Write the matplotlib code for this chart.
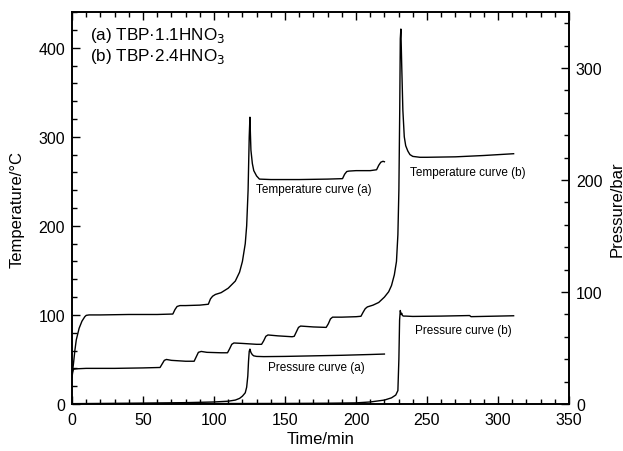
import matplotlib
matplotlib.use("Agg")
import matplotlib.pyplot as plt
from matplotlib.ticker import MultipleLocator

plt.rcParams['font.family'] = ['Liberation Sans', 'DejaVu Sans']

# Temperature curve (a): TBP·1.1HNO3 (left axis, °C)
temp_a_t = [0, 1, 2, 3, 5, 7, 9, 10, 12, 20, 40, 60, 71, 72.5, 74, 76, 80, 90, 96,
            97.5, 99, 101, 105, 110, 115, 118, 120, 122, 123, 124, 124.8, 125.3,
            125.6, 126, 127, 128, 130, 132, 140, 160, 180, 190.5, 192, 193.5, 195,
            200, 210, 214.5, 216, 217.5, 219, 220]
temp_a_v = [32, 45, 60, 72, 85, 93, 98, 99.5, 100, 100, 100.5, 100.5, 101, 106, 109.5,
            110.5, 110.5, 111, 112, 118, 121, 123, 125, 130, 138, 148, 160, 180, 200,
            240, 300, 322, 305, 285, 270, 262, 256, 252.5, 252, 252, 252.5, 253, 258,
            261, 261.5, 262, 262, 263, 268, 271.5, 272.5, 272]

# Temperature curve (b): TBP·2.4HNO3 (left axis, °C)
temp_b_t = [0, 0.5, 1, 3, 10, 30, 50, 62, 63.5, 65, 66.5, 70, 80, 86, 87.5, 89, 91, 95,
            105, 109.5, 111, 112.5, 114, 120, 130, 133.5, 135, 136.5, 138, 145, 155,
            156.5, 158, 159.5, 161, 170, 179, 180.5, 182, 183.5, 190, 200, 203.5, 205,
            206.5, 208, 212, 216, 220, 223, 225, 227, 228.5, 229.5, 230.2, 230.8,
            231.2, 231.6, 232.2, 233, 234, 235, 236.5, 238, 240, 245, 250, 270, 290, 311]
temp_b_v = [30, 36, 39, 39.5, 40, 40, 40.5, 41, 45, 49, 50, 49, 48, 48, 53, 58, 59, 58,
            57.5, 57.5, 62, 67, 68.5, 68, 67, 67, 71, 76, 77.5, 76.5, 75.5, 76, 81, 86,
            87.5, 86.5, 86, 90, 95.5, 97.5, 97.5, 98, 98.5, 103, 107, 109, 111, 114, 120,
            126, 133, 145, 160, 190, 240, 330, 410, 421, 380, 330, 300, 290, 284, 280,
            278, 277, 277, 277.5, 279, 281]

# Pressure curve (a) (right axis, bar)
pres_a_t = [0, 20, 50, 80, 100, 110, 115, 118, 120, 122, 123, 123.8, 124.3, 124.8,
            125.3, 126, 127, 128, 130, 135, 150, 170, 190, 210, 220]
pres_a_v = [0.3, 0.5, 0.8, 1.2, 1.8, 2.5, 3.5, 5, 7, 10, 15, 25, 38, 47, 49, 46, 44,
            43, 42.5, 42.3, 42.5, 43, 43.5, 44.2, 44.6]

# Pressure curve (b) (right axis, bar)
pres_b_t = [0, 50, 100, 150, 180, 200, 210, 220, 225, 228, 229.5, 230.2, 230.7, 231.2,
            231.7, 232.2, 232.7, 233.5, 235, 240, 260, 280, 281, 300, 311]
pres_b_v = [0.2, 0.3, 0.4, 0.5, 0.7, 1, 1.8, 3.5, 5.5, 8, 12, 40, 75, 83.5, 80, 81,
            79, 78.5, 78.5, 78.2, 78.5, 79, 78, 78.5, 78.8]

fig = plt.figure(figsize=(6.23, 4.52), dpi=100)
ax = fig.add_axes([0.1156, 0.104, 0.7977, 0.867])
ax2 = ax.twinx()

lw = 1.0
ax.plot(temp_a_t, temp_a_v, color='black', lw=lw)
ax.plot(temp_b_t, temp_b_v, color='black', lw=lw)
ax2.plot(pres_a_t, pres_a_v, color='black', lw=lw)
ax2.plot(pres_b_t, pres_b_v, color='black', lw=lw)

ax.set_xlim(0, 350)
ax.set_ylim(0, 440)
ax2.set_ylim(0, 350)

ax.xaxis.set_major_locator(MultipleLocator(50))
ax.xaxis.set_minor_locator(MultipleLocator(10))
ax.yaxis.set_major_locator(MultipleLocator(100))
ax.yaxis.set_minor_locator(MultipleLocator(20))
ax2.yaxis.set_major_locator(MultipleLocator(100))
ax2.yaxis.set_minor_locator(MultipleLocator(20))

ax.tick_params(axis='both', which='both', direction='in', labelsize=11.5)
ax.tick_params(axis='x', which='both', top=True, pad=6)
ax.tick_params(axis='y', which='both', pad=5)
ax.tick_params(which='major', length=6, width=1)
ax.tick_params(which='minor', length=3.5, width=1)
ax2.tick_params(axis='y', which='both', direction='in', labelsize=11.5, pad=5)
ax2.tick_params(which='major', length=6, width=1)
ax2.tick_params(which='minor', length=3.5, width=1)

for a in (ax, ax2):
    for s in a.spines.values():
        s.set_linewidth(1.2)

ax.set_xlabel('Time/min', fontsize=12, labelpad=3)
ax.set_ylabel('Temperature/°C', fontsize=12, labelpad=10)
ax2.set_ylabel('Pressure/bar', fontsize=12, labelpad=5)

ax.text(13, 415, '(a) TBP·1.1HNO$_3$', fontsize=12.3, va='center')
ax.text(13, 391, '(b) TBP·2.4HNO$_3$', fontsize=12.3, va='center')

fs = 8.5
ax.text(129.5, 241, 'Temperature curve (a)', fontsize=fs, va='center')
ax.text(238, 261, 'Temperature curve (b)', fontsize=fs, va='center')
ax.text(138, 42, 'Pressure curve (a)', fontsize=fs, va='center')
ax.text(241.5, 83, 'Pressure curve (b)', fontsize=fs, va='center')

fig.savefig('out.png', dpi=100)
